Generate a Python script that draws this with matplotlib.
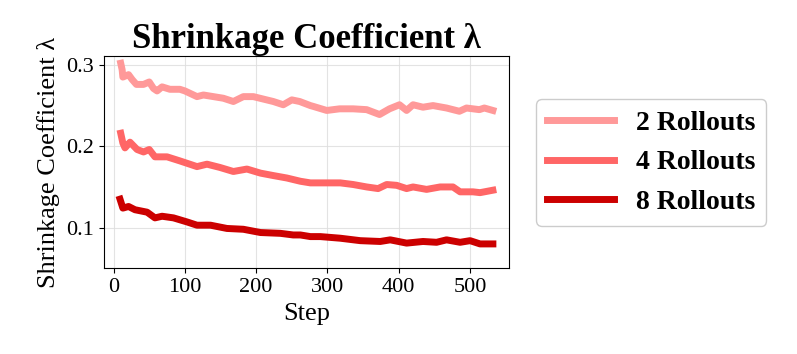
import matplotlib
matplotlib.use("Agg")
import matplotlib.pyplot as plt

plt.rcParams['font.family'] = ['Liberation Serif', 'DejaVu Serif']

# 2 Rollouts
steps_2 = [10, 12, 13, 21, 26, 32, 42, 50, 56, 61, 68, 79, 93, 100, 117, 126, 140, 154, 168,
           182, 196, 210, 224, 238, 250, 261, 276, 280, 299, 317, 336, 355, 373, 387, 401,
           411, 420, 434, 448, 467, 485, 495, 513, 520, 532]
vals_2 = [0.302, 0.294, 0.285, 0.288, 0.282, 0.276, 0.276, 0.279, 0.271, 0.268, 0.273, 0.270,
          0.270, 0.268, 0.261, 0.263, 0.261, 0.259, 0.255, 0.261, 0.261, 0.258, 0.255, 0.251,
          0.257, 0.255, 0.250, 0.249, 0.244, 0.246, 0.246, 0.245, 0.239, 0.246, 0.251, 0.244,
          0.251, 0.248, 0.250, 0.247, 0.243, 0.247, 0.245, 0.247, 0.244]

# 4 Rollouts
steps_4 = [10, 13, 16, 23, 33, 42, 50, 58, 75, 93, 117, 131, 149, 168, 187, 206, 224, 243,
           262, 276, 280, 299, 318, 336, 355, 371, 383, 397, 411, 420, 439, 458, 476, 486,
           504, 514, 532]
vals_4 = [0.216, 0.204, 0.198, 0.205, 0.196, 0.193, 0.196, 0.187, 0.187, 0.182, 0.175, 0.178,
          0.174, 0.169, 0.172, 0.167, 0.164, 0.161, 0.157, 0.155, 0.155, 0.155, 0.155, 0.153,
          0.150, 0.148, 0.153, 0.152, 0.148, 0.150, 0.147, 0.150, 0.150, 0.144, 0.144, 0.143,
          0.146]

# 8 Rollouts
steps_8 = [9, 13, 21, 30, 47, 58, 68, 84, 103, 117, 136, 159, 182, 206, 234, 252, 262, 276,
           290, 318, 346, 374, 388, 411, 434, 453, 467, 486, 500, 514, 532]
vals_8 = [0.135, 0.124, 0.126, 0.122, 0.119, 0.112, 0.114, 0.112, 0.107, 0.103, 0.103, 0.099,
          0.098, 0.094, 0.093, 0.091, 0.091, 0.089, 0.089, 0.087, 0.084, 0.083, 0.085, 0.081,
          0.083, 0.082, 0.085, 0.082, 0.084, 0.080, 0.080]

labels = ['2 Rollouts', '4 Rollouts', '8 Rollouts']
colors = ['#FF9999', '#FF6666', '#CC0000']

fig = plt.figure(figsize=(7.97, 3.54), dpi=100)
ax = fig.add_axes([0.130, 0.242, 0.509, 0.600])

for s, v, lab, c in zip([steps_2, steps_4, steps_8], [vals_2, vals_4, vals_8], labels, colors):
    ax.plot(s, v, color=c, linewidth=5, label=lab)

ax.set_xlim(-14, 555)
ax.set_ylim(0.05, 0.311)
ax.set_xticks([0, 100, 200, 300, 400, 500])
ax.set_yticks([0.1, 0.2, 0.3])
ax.tick_params(labelsize=16)
ax.grid(True, color='#dddddd', linewidth=0.8, alpha=0.8)
ax.set_xlabel('Step', fontsize=19)
ax.set_ylabel('Shrinkage Coefficient λ', fontsize=19)
ax.set_title('Shrinkage Coefficient λ', fontsize=25, fontweight='bold')

fig.legend(loc='center left', bbox_to_anchor=(536 / 797, 1 - 162.5 / 354),
           bbox_transform=fig.transFigure, borderaxespad=0, handlelength=2.4,
           prop={'size': 20, 'weight': 'bold'}, framealpha=1)

fig.savefig('out.png', dpi=100)
